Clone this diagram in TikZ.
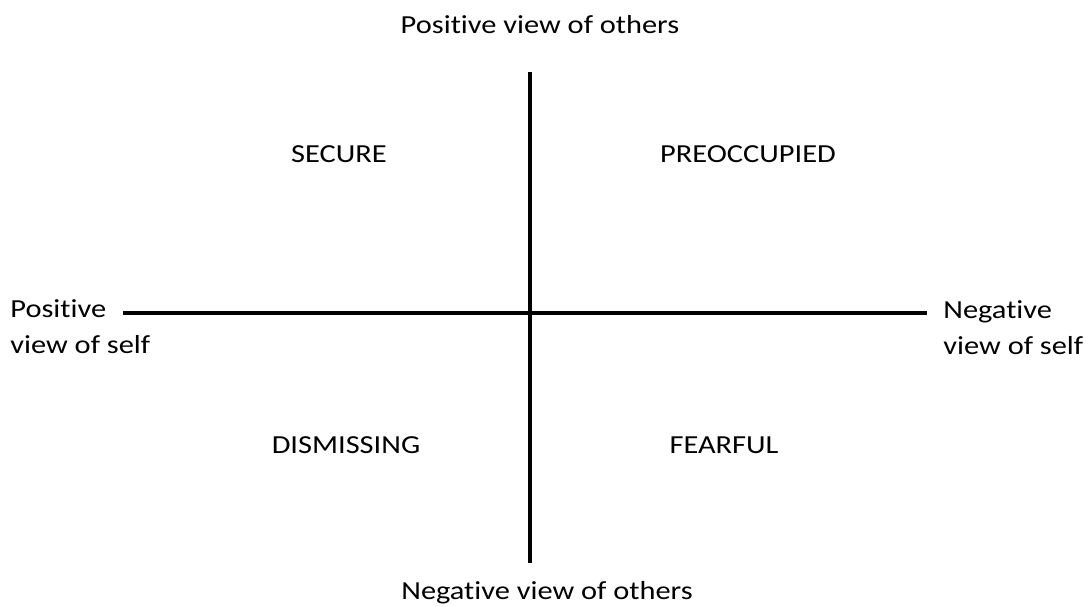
\documentclass[tikz,border=0pt]{standalone}
\usepackage{fontspec}
\setmainfont[FakeStretch=1.17,RawFeature={-liga}]{Carlito}
\usetikzlibrary{positioning,calc}

\begin{document}
\begin{tikzpicture}[x=0.5pt,y=-0.5pt]
                        \tikzstyle{every node}=[inner sep=0,font=\fontsize{13}{18}\selectfont]
                        \tikzstyle{axislabel}=[draw=none,fill=none]
                        \tikzstyle{quadrant}=[draw=none,fill=none,anchor=base]
                        \tikzstyle{axis}=[line width=2pt,black]
                        {
                            \useasboundingbox (0,0) rectangle (1086,606);

                            % axis ends
                            \coordinate (v0) at (530,72);
                            \coordinate (v1) at (530,563);
                            \coordinate (h0) at (123,313);
                            \coordinate (h1) at (927,313);

                            \node[axislabel,anchor=base] (others+) at (540,33) {Positive view of others};
                            \node[axislabel,anchor=base] (others-) at (547,599) {Negative view of others};
                            \node[axislabel,anchor=west,align=left] (self+) at (10,327) {Positive\\view of self};
                            \node[axislabel,anchor=west,align=left] (self-) at (943,328) {Negative\\view of self};

                            \path[draw,axis]
                                (v0) -- (v1)
                                (h0) -- (h1);

                            \node[quadrant] (q1) at (339,162) {SECURE};
                            \node[quadrant] (q2) at (748,162) {PREOCCUPIED};
                            \node[quadrant] (q3) at (346,453) {DISMISSING};
                            \node[quadrant] (q4) at (724,453) {FEARFUL};
                        }
                    \end{tikzpicture}
\end{document}
